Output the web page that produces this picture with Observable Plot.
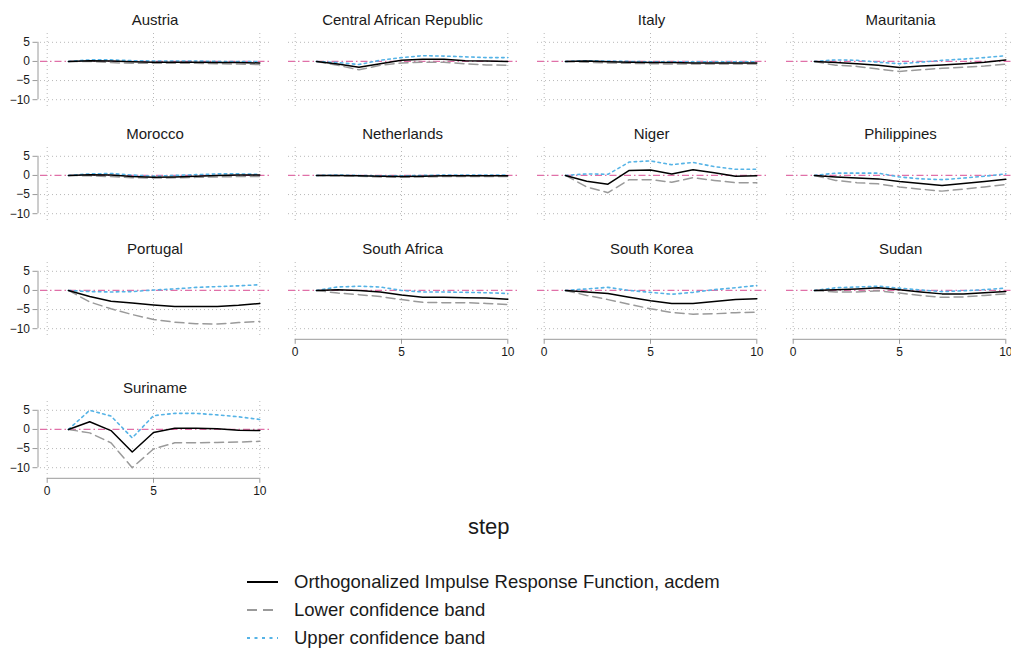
<!DOCTYPE html>
<html>
<head>
<meta charset="utf-8">
<script src="https://cdn.jsdelivr.net/npm/d3@7"></script>
<script src="https://cdn.jsdelivr.net/npm/@observablehq/plot@0.6"></script>
<style>
  html, body { margin: 0; padding: 0; background: #fff; }
  body { width: 1011px; height: 653px; position: relative; overflow: hidden;
         font-family: "Liberation Sans", Arial, Helvetica, sans-serif; color: #1a1a1a; }
  .panel { position: absolute; }
  .panel svg { max-width: none; overflow: visible; }
  .ptitle { position: absolute; width: 230px; text-align: center; font-size: 15px; line-height: 18px; }
  .xlab { position: absolute; font-size: 22px; line-height: 26px; }
  .legend { position: absolute; left: 245px; top: 568px; font-size: 18.5px; }
  .legend .row { height: 28px; display: flex; align-items: center; }
  .legend svg { width: 36px; height: 10px; margin-right: 13px; }
</style>
</head>
<body>
<script>
// ---- data ----
const countries = ["Austria", "Central African Republic", "Italy", "Mauritania",
  "Morocco", "Netherlands", "Niger", "Philippines",
  "Portugal", "South Africa", "South Korea", "Sudan", "Suriname"];
const steps = [1, 2, 3, 4, 5, 6, 7, 8, 9, 10];
const irf = [
  [0, 0.2, 0.1, -0.1, -0.2, -0.2, -0.2, -0.3, -0.3, -0.4],
  [0, -0.7, -1.5, -0.6, 0.3, 0.6, 0.6, 0.2, 0.1, 0.0],
  [0, 0.1, -0.1, -0.2, -0.3, -0.3, -0.4, -0.4, -0.4, -0.4],
  [0, -0.3, -0.6, -1.0, -1.6, -1.2, -0.9, -0.6, -0.2, 0.4],
  [0, 0.2, 0.1, -0.3, -0.5, -0.4, -0.2, 0.0, 0.1, 0.1],
  [0, 0.0, -0.1, -0.2, -0.3, -0.2, -0.1, -0.1, -0.1, -0.1],
  [0, -1.5, -2.3, 1.3, 1.4, 0.4, 1.5, 0.7, -0.2, -0.1],
  [0, -0.4, -0.7, -0.9, -1.6, -2.1, -2.6, -2.1, -1.6, -1.0],
  [0, -1.6, -2.8, -3.3, -3.8, -4.2, -4.2, -4.2, -3.9, -3.4],
  [0, 0.2, 0.0, -0.4, -1.2, -1.8, -1.8, -1.9, -2.0, -2.3],
  [0, -0.4, -0.8, -1.8, -2.7, -3.4, -3.4, -2.9, -2.4, -2.2],
  [0, 0.2, 0.4, 0.7, 0.2, -0.4, -0.9, -0.9, -0.6, -0.3],
  [0, 2.0, -0.3, -5.9, -0.8, 0.3, 0.3, 0.2, -0.2, -0.3]
];
const lower = [
  [0, 0.0, -0.3, -0.5, -0.5, -0.5, -0.5, -0.6, -0.7, -0.8],
  [0, -1.0, -2.2, -1.0, -0.4, -0.2, -0.2, -0.6, -0.9, -1.0],
  [0, -0.2, -0.4, -0.5, -0.6, -0.7, -0.7, -0.7, -0.7, -0.7],
  [0, -1.0, -1.3, -2.0, -2.6, -2.2, -1.8, -1.5, -1.2, -0.7],
  [0, -0.1, -0.3, -0.6, -0.7, -0.6, -0.5, -0.4, -0.3, -0.3],
  [0, -0.1, -0.2, -0.4, -0.5, -0.4, -0.3, -0.3, -0.3, -0.3],
  [0, -3.0, -4.5, -1.1, -1.1, -1.8, -0.6, -1.3, -1.9, -1.9],
  [0, -1.3, -1.9, -2.2, -3.0, -3.6, -4.1, -3.6, -3.0, -2.4],
  [0, -3.0, -4.8, -6.3, -7.6, -8.3, -8.7, -8.8, -8.4, -8.1],
  [0, -0.7, -1.1, -1.6, -2.4, -3.1, -3.2, -3.2, -3.4, -3.7],
  [0, -1.3, -2.4, -3.6, -4.8, -5.8, -6.2, -6.1, -5.8, -5.7],
  [0, -0.4, -0.4, -0.1, -0.7, -1.3, -1.8, -1.7, -1.3, -0.9],
  [0, -0.9, -3.5, -10.0, -5.1, -3.5, -3.5, -3.4, -3.3, -3.1]
];
const upper = [
  [0, 0.4, 0.4, 0.2, 0.1, 0.1, 0.1, 0.0, 0.0, 0.0],
  [0, -0.3, -0.8, 0.3, 1.0, 1.5, 1.4, 1.2, 1.0, 1.0],
  [0, 0.2, 0.1, 0.0, -0.1, -0.1, -0.1, -0.1, -0.1, -0.1],
  [0, 0.4, 0.3, -0.2, -0.6, -0.2, 0.3, 0.6, 1.0, 1.5],
  [0, 0.4, 0.5, 0.1, -0.2, 0.0, 0.2, 0.4, 0.4, 0.3],
  [0, 0.1, 0.0, -0.1, -0.1, 0.0, 0.1, 0.1, 0.1, 0.1],
  [0, 0.4, 0.3, 3.5, 3.8, 2.8, 3.4, 2.3, 1.6, 1.6],
  [0, 0.6, 0.6, 0.6, -0.4, -0.9, -1.1, -0.7, -0.2, 0.4],
  [0, -0.3, -0.4, -0.3, 0.1, 0.4, 0.8, 1.0, 1.2, 1.5],
  [0, 0.9, 1.1, 0.9, 0.0, -0.4, -0.4, -0.5, -0.6, -0.8],
  [0, 0.4, 0.8, 0.0, -0.5, -1.0, -0.5, 0.2, 0.7, 1.3],
  [0, 0.7, 0.9, 1.1, 0.6, 0.1, -0.3, -0.1, 0.2, 0.6],
  [0, 5.0, 3.5, -2.2, 3.6, 4.2, 4.2, 3.8, 3.3, 2.6]
];
const yTicks = [5, 0, -5, -10];
const xTicks = [0, 5, 10];
const seriesLabels = ["Orthogonalized Impulse Response Function, acdem",
  "Lower confidence band", "Upper confidence band"];
const xTitle = "step";

// ---- layout ----
const colLeft = [0, 247.6, 496.6, 745.6];
const rowTop = [32.5, 147, 262, 401];
const panelsWithXAxis = ["South Africa", "South Korea", "Sudan", "Suriname"];
const xDomain = [-0.315, 10.503];
const yDomain = [-12.3, 7.3];
const font = '"Liberation Sans", Arial, Helvetica, sans-serif';
const cIrf = "#000000", cLow = "#9a9a9a", cUp = "#55b3e6", cRef = "#e070a8", cGrid = "#b8b8b8", cAxis = "#9a9a9a";

countries.forEach((name, i) => {
  const col = i % 4, row = Math.floor(i / 4);
  const rows = steps.map((s, k) => ({step: s, irf: irf[i][k], lower: lower[i][k], upper: upper[i][k]}));
  const showY = col === 0;
  const showX = panelsWithXAxis.includes(name);
  const marks = [
    Plot.ruleY(yTicks.filter(d => d !== 0), {stroke: cGrid, strokeDasharray: "1,3", strokeWidth: 1}),
    Plot.ruleX(xTicks, {stroke: cGrid, strokeDasharray: "1,3", strokeWidth: 1}),
    Plot.ruleY([0], {stroke: cRef, strokeWidth: 1.2, strokeDasharray: "7,3,1.5,3"}),
    Plot.line(rows, {x: "step", y: "lower", stroke: cLow, strokeWidth: 1.5, strokeDasharray: "9,5"}),
    Plot.line(rows, {x: "step", y: "upper", stroke: cUp, strokeWidth: 1.6, strokeDasharray: "2.5,3.5"}),
    Plot.line(rows, {x: "step", y: "irf", stroke: cIrf, strokeWidth: 1.5})
  ];
  if (showY) {
    marks.push(
      Plot.ruleX([xDomain[0]], {y1: yTicks[yTicks.length - 1], y2: yTicks[0], dx: -2.5, stroke: cAxis}),
      Plot.axisY(yTicks, {anchor: "left", tickSize: 5, tickPadding: 3, dx: -2.5, stroke: cAxis, fill: "#1a1a1a", fontSize: 12, label: null})
    );
  }
  if (showX) {
    marks.push(
      Plot.ruleY([yDomain[0]], {x1: xTicks[0], x2: xTicks[xTicks.length - 1], dy: 1.8, stroke: cAxis}),
      Plot.axisX(xTicks, {anchor: "bottom", tickSize: 5, tickPadding: 3, dy: 1.8, stroke: cAxis, fill: "#1a1a1a", fontSize: 12, label: null})
    );
  }
  const svg = Plot.plot({
    width: 272, height: 112,
    marginLeft: 40, marginRight: 2, marginTop: 5, marginBottom: 32,
    x: {domain: xDomain, axis: null},
    y: {domain: yDomain, axis: null},
    style: {fontFamily: font, fontSize: "12px", background: "transparent", color: "#1a1a1a"},
    marks
  });
  const div = document.createElement("div");
  div.className = "panel";
  div.style.left = colLeft[col] + "px";
  div.style.top = (rowTop[row] - 5) + "px";
  div.appendChild(svg);
  document.body.appendChild(div);

  const t = document.createElement("div");
  t.className = "ptitle";
  t.textContent = name;
  t.style.left = (colLeft[col] + 40) + "px";
  t.style.top = (rowTop[row] - 13 - 9) + "px";
  document.body.appendChild(t);
});

// x title
const xl = document.createElement("div");
xl.className = "xlab";
xl.textContent = xTitle;
xl.style.left = "468px";
xl.style.top = "514px";
document.body.appendChild(xl);

// legend
const legend = document.createElement("div");
legend.className = "legend";
const styles = [
  {stroke: cIrf, dash: null, w: 2},
  {stroke: cLow, dash: "10,6", w: 2},
  {stroke: cUp, dash: "3,4.5", w: 2}
];
seriesLabels.forEach((lab, k) => {
  const r = document.createElement("div");
  r.className = "row";
  const s = styles[k];
  r.innerHTML = `<svg viewBox="0 0 36 10"><line x1="2" y1="5" x2="33" y2="5" stroke="${s.stroke}" stroke-width="${s.w}" ${s.dash ? `stroke-dasharray="${s.dash}"` : ""}/></svg>`;
  const span = document.createElement("span");
  span.textContent = lab;
  r.appendChild(span);
  legend.appendChild(r);
});
document.body.appendChild(legend);
</script>
</body>
</html>
